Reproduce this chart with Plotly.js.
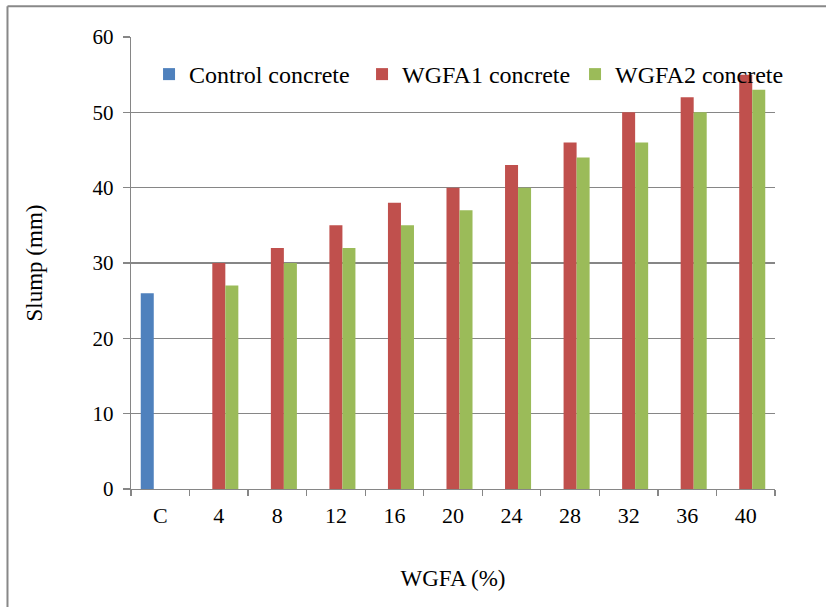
<!DOCTYPE html>
<html>
<head>
<meta charset="utf-8">
<script src="https://cdn.plot.ly/plotly-3.0.1.min.js"></script>
<style>
html, body { margin: 0; padding: 0; background: #ffffff; }
#chart { width: 826px; height: 607px; }
</style>
</head>
<body>
<div id="chart"></div>
<script>
var categories = ['C', '4', '8', '12', '16', '20', '24', '28', '32', '36', '40'];
var controlCats = ['C'];
var controlValues = [26];
var wgfaCats = ['4', '8', '12', '16', '20', '24', '28', '32', '36', '40'];
var wgfa1Values = [30, 32, 35, 38, 40, 43, 46, 50, 52, 55];
var wgfa2Values = [27, 30, 32, 35, 37, 40, 44, 46, 50, 53];
var yTicks = [0, 10, 20, 30, 40, 50, 60];

var FONT = 'Liberation Serif, Times New Roman, serif';
var GRID = '#868686';

var traces = [
  { type: 'bar', name: 'Control concrete', x: controlCats, y: controlValues,
    marker: { color: '#4F81BD' } },
  { type: 'bar', name: 'WGFA1 concrete', x: wgfaCats, y: wgfa1Values,
    marker: { color: '#C0504D' } },
  { type: 'bar', name: 'WGFA2 concrete', x: wgfaCats, y: wgfa2Values,
    marker: { color: '#9BBB59' } }
];

var layout = {
  width: 826, height: 607,
  margin: { l: 131, r: 51, t: 37, b: 118, pad: 0 },
  paper_bgcolor: '#ffffff', plot_bgcolor: '#ffffff',
  font: { family: FONT, color: '#000000', size: 21 },
  barmode: 'group', bargap: 0.333, bargroupgap: 0,
  showlegend: true,
  legend: {
    orientation: 'h', x: 0.028, xanchor: 'left', y: 0.917, yanchor: 'middle',
    entrywidth: 168, entrywidthmode: 'pixels',
    font: { family: FONT, size: 24, color: '#000000' },
    bgcolor: 'rgba(0,0,0,0)', traceorder: 'normal'
  },
  xaxis: {
    type: 'category', categoryorder: 'array', categoryarray: categories,
    tickvals: categories, ticktext: categories,
    showline: true, linecolor: GRID, linewidth: 1.3,
    ticks: 'outside', tickson: 'boundaries', ticklen: 6, tickcolor: GRID, tickwidth: 1.3,
    ticklabelstandoff: 6,
    showgrid: false, zeroline: false,
    tickfont: { family: FONT, size: 22, color: '#000000' },
    title: { text: 'WGFA (%)', font: { family: FONT, size: 23, color: '#000000' }, standoff: 43 }
  },
  yaxis: {
    range: [0, 60], tickvals: yTicks, ticktext: yTicks.map(String),
    showline: true, linecolor: GRID, linewidth: 1.3,
    ticks: 'outside', ticklen: 7, tickcolor: GRID, tickwidth: 1.3,
    ticklabelstandoff: 5,
    showgrid: true, gridcolor: GRID, gridwidth: 1.3, zeroline: false,
    tickfont: { family: FONT, size: 21, color: '#000000' },
    title: { text: 'Slump (mm)', font: { family: FONT, size: 23, color: '#000000' }, standoff: 43 }
  },
  shapes: [
    { type: 'line', xref: 'paper', yref: 'paper', x0: -0.1918, x1: 1.08, y0: 1.0682, y1: 1.0682,
      line: { color: '#888888', width: 2 } },
    { type: 'line', xref: 'paper', yref: 'paper', x0: -0.1918, x1: -0.1918, y0: 1.0682, y1: -0.27,
      line: { color: '#888888', width: 2 } }
  ]
};

Plotly.newPlot('chart', traces, layout, { displayModeBar: false, staticPlot: true });
</script>
</body>
</html>
